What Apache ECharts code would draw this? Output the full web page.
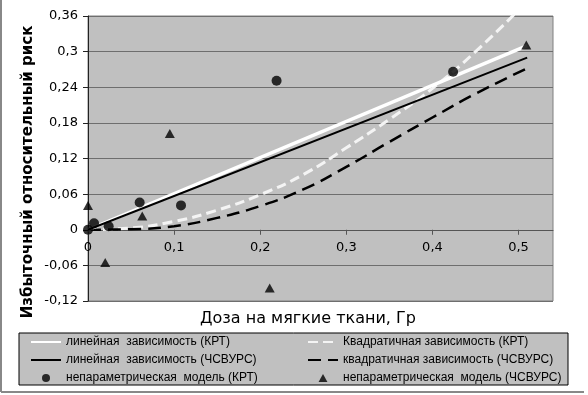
<!DOCTYPE html>
<html>
<head>
<meta charset="utf-8">
<script src="https://cdn.jsdelivr.net/npm/echarts@6/dist/echarts.min.js"></script>
<style>
  html, body { margin: 0; padding: 0; background: #fff; }
  #chart { width: 588px; height: 395px; }
</style>
</head>
<body>
<div id="chart"></div>
<script>
// названия рядов
const names = [
  'линейная  зависимость (КРТ)',
  'линейная  зависимость (ЧСВУРС)',
  'непараметрическая  модель (КРТ)',
  'Квадратичная зависимость (КРТ)',
  'квадратичная зависимость (ЧСВУРС)',
  'непараметрическая  модель (ЧСВУРС)'
]

// линейные модели
const doseLinear = [0, 0.51]
const linearKRT = [0, 0.31]
const linearChs = [0, 0.29]

// квадратичные модели
const doseQuadKRT = [0, 0.05, 0.1, 0.15, 0.2, 0.25, 0.3, 0.35, 0.4, 0.45, 0.5]
const quadKRT = [0, 0.003, 0.014, 0.033, 0.059, 0.093, 0.138, 0.186, 0.238, 0.3, 0.37]
const doseQuadChs = [0, 0.05, 0.1, 0.15, 0.2, 0.25, 0.3, 0.35, 0.4, 0.45, 0.51]
const quadChs = [0, 0.001, 0.006, 0.02, 0.04, 0.068, 0.106, 0.148, 0.189, 0.229, 0.272]

// непараметрические оценки
const npDoseKRT = [0, 0.007, 0.024, 0.06, 0.108, 0.219, 0.424]
const npRiskKRT = [0, 0.011, 0.006, 0.046, 0.041, 0.251, 0.266]
const npDoseChs = [0, 0.02, 0.063, 0.095, 0.211, 0.509]
const npRiskChs = [0.041, -0.055, 0.023, 0.162, -0.098, 0.311]

const zip = (xs, ys) => xs.map((x, i) => [x, ys[i]])
const fmt = v => v === 0 ? '0' : String(+v.toFixed(2)).replace('.', ',')

const FONT = 'DejaVu Sans, Liberation Sans, sans-serif'
const LEGEND_FONT = 'Liberation Sans, Arial, sans-serif'
const yMin = -0.12, yMax = 0.36
const grid = { left: 88, right: 35, top: 16, bottom: 94 }
const gridH = 395 - grid.top - grid.bottom
// ось X проходит через ноль оси Y
const xAxisOffset = -gridH * (0 - yMin) / (yMax - yMin)

const chart = echarts.init(document.getElementById('chart'))

const legendLine = name => ({ name, itemStyle: { opacity: 0 } })
const legendBase = {
  orient: 'vertical', top: 335, padding: 0,
  itemWidth: 30, itemHeight: 8, itemGap: 4,
  textStyle: { fontSize: 12, color: '#000', lineHeight: 14, fontFamily: LEGEND_FONT }
}

const option = {
  backgroundColor: '#fff',
  animation: false,
  textStyle: { fontFamily: FONT },
  grid: Object.assign({
    show: true,
    backgroundColor: '#c0c0c0',
    borderColor: '#808080',
    borderWidth: 1
  }, grid),
  xAxis: {
    type: 'value',
    min: 0, max: 0.54, interval: 0.1,
    offset: xAxisOffset,
    axisLine: { onZero: false, lineStyle: { color: '#555', width: 1 } },
    axisTick: { show: true, length: 5, lineStyle: { color: '#555' } },
    axisLabel: { formatter: fmt, showMaxLabel: false, fontSize: 13, color: '#000', margin: 11 },
    splitLine: { show: false }
  },
  yAxis: {
    type: 'value',
    min: yMin, max: yMax, interval: 0.06,
    axisLine: { show: true, onZero: false, lineStyle: { color: '#222', width: 1 } },
    axisTick: { show: true, length: 5, lineStyle: { color: '#222' } },
    axisLabel: { formatter: fmt, fontSize: 13, color: '#000', margin: 10 },
    splitLine: { lineStyle: { color: '#6e6e6e', width: 1 } }
  },
  legend: [
    Object.assign({}, legendBase, {
      left: 30,
      data: [legendLine(names[0]), legendLine(names[1]), { name: names[2], icon: 'circle' }]
    }),
    Object.assign({}, legendBase, {
      left: 307,
      data: [legendLine(names[3]), legendLine(names[4]),
        { name: names[5], icon: 'path://M5,0L10,9L0,9Z' }]
    })
  ],
  graphic: [
    { type: 'line', z: -1, shape: { x1: 1, y1: 0, x2: 1, y2: 392 }, style: { stroke: '#888', lineWidth: 2 } },
    { type: 'line', z: -1, shape: { x1: 1, y1: 392, x2: 584, y2: 392 }, style: { stroke: '#888', lineWidth: 2 } },
    { type: 'rect', z: 0, shape: { x: 19, y: 333, width: 549, height: 52 },
      style: { fill: '#c0c0c0', stroke: '#000', lineWidth: 1 } },
    { type: 'text', x: 308, y: 319,
      style: { text: 'Доза на мягкие ткани, Гр', font: '16px ' + FONT,
        fill: '#000', align: 'center', verticalAlign: 'middle' } },
    { type: 'text', x: 28, y: 172, rotation: Math.PI / 2,
      style: { text: 'Избыточный относительный риск', font: 'bold 15px ' + FONT,
        fill: '#000', align: 'center', verticalAlign: 'middle' } }
  ],
  series: [
    {
      name: names[3], type: 'line', data: zip(doseQuadKRT, quadKRT),
      showSymbol: false, symbol: 'none', smooth: true, z: 2,
      lineStyle: { color: '#f4f4f4', width: 3, type: [10, 5] },
      itemStyle: { color: '#f4f4f4' }
    },
    {
      name: names[4], type: 'line', data: zip(doseQuadChs, quadChs),
      showSymbol: false, symbol: 'none', smooth: true, z: 2,
      lineStyle: { color: '#000', width: 2.5, type: [13, 7] },
      itemStyle: { color: '#000' }
    },
    {
      name: names[0], type: 'line', data: zip(doseLinear, linearKRT),
      showSymbol: false, symbol: 'none', z: 3,
      lineStyle: { color: '#fff', width: 3.5 },
      itemStyle: { color: '#fff' }
    },
    {
      name: names[1], type: 'line', data: zip(doseLinear, linearChs),
      showSymbol: false, symbol: 'none', z: 3,
      lineStyle: { color: '#000', width: 2 },
      itemStyle: { color: '#000' }
    },
    {
      name: names[2], type: 'scatter', data: zip(npDoseKRT, npRiskKRT),
      symbol: 'circle', symbolSize: 10, z: 5,
      itemStyle: { color: '#000' }
    },
    {
      name: names[5], type: 'scatter', data: zip(npDoseChs, npRiskChs),
      symbol: 'triangle', symbolSize: [10, 9], z: 5,
      itemStyle: { color: '#000' }
    }
  ]
}

chart.setOption(option)
</script>
</body>
</html>
